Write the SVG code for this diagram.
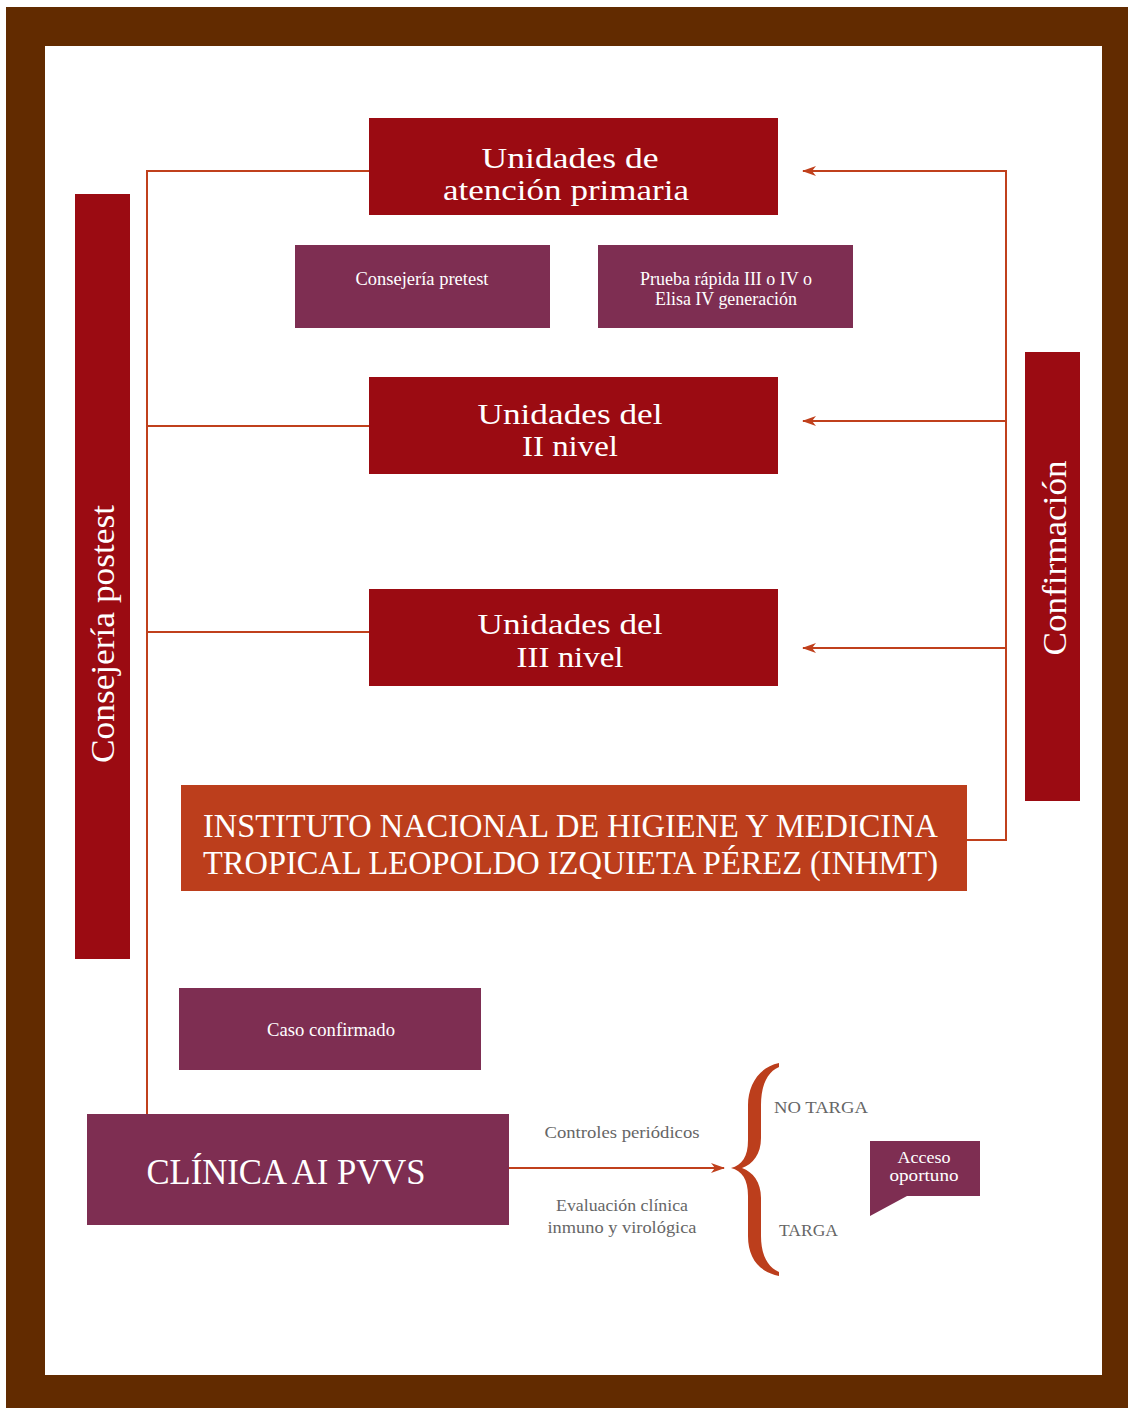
<svg xmlns="http://www.w3.org/2000/svg" width="1128" height="1408" viewBox="0 0 1128 1408">
<defs>
<style>
.red{fill:#9b0b12}
.pur{fill:#7e2e52}
.org{fill:#bc3e1c}
.wt{fill:#ffffff;font-family:"Liberation Serif","Times New Roman",serif}
.gt{fill:#666666;font-family:"Liberation Serif","Times New Roman",serif;font-size:17px}
.ln{fill:none;stroke:#c0401c;stroke-width:2}
</style>
<marker id="ah" viewBox="0 0 14 10" refX="13" refY="5" markerWidth="14" markerHeight="10" markerUnits="userSpaceOnUse" orient="auto">
<path d="M0,0 L14,5 L0,10 L4,5 Z" fill="#c0401c"/>
</marker>
</defs>
<rect x="6" y="7" width="1122" height="1401" fill="#622b00"/>
<rect x="45" y="46" width="1057" height="1329" fill="#ffffff"/>

<g id="connectors">
<polyline class="ln" points="369,171 147,171 147,1114"/>
<line class="ln" x1="147" y1="426" x2="369" y2="426"/>
<line class="ln" x1="147" y1="632" x2="369" y2="632"/>
<polyline class="ln" points="967,840 1006,840 1006,171 803,171" marker-end="url(#ah)"/>
<line class="ln" x1="1006" y1="421" x2="803" y2="421" marker-end="url(#ah)"/>
<line class="ln" x1="1006" y1="648" x2="803" y2="648" marker-end="url(#ah)"/>
<line class="ln" x1="509" y1="1168" x2="724" y2="1168" marker-end="url(#ah)"/>
<path d="M779,1063 C759,1067 748,1085 748,1105 L748,1140 C748,1157 742,1165 731,1168 C742,1171 748,1179 748,1196 L748,1236 C748,1258 759,1272 779,1276 L779,1272 C767,1267 761,1254 761,1236 L761,1198 C761,1182 753,1172 742,1168 C753,1164 761,1154 761,1138 L761,1105 C761,1086 767,1072 779,1067 Z" fill="#bc3e1c"/>
</g>

<g id="consejeria-postest">
<rect class="red" x="75" y="194" width="55" height="765"/>
<text class="wt" font-size="34" text-anchor="middle" transform="translate(114,634) rotate(-90)" textLength="258" lengthAdjust="spacingAndGlyphs">Consejería postest</text>
</g>

<g id="confirmacion">
<rect class="red" x="1025" y="352" width="55" height="449"/>
<text class="wt" font-size="34" text-anchor="middle" transform="translate(1066,558) rotate(-90)" textLength="195" lengthAdjust="spacingAndGlyphs">Confirmación</text>
</g>

<g id="atencion-primaria">
<rect class="red" x="369" y="118" width="409" height="97"/>
<text class="wt" font-size="30" text-anchor="middle" x="570" y="168" textLength="177" lengthAdjust="spacingAndGlyphs">Unidades de</text>
<text class="wt" font-size="30" text-anchor="middle" x="566" y="200" textLength="246" lengthAdjust="spacingAndGlyphs">atención primaria</text>
</g>

<g id="consejeria-pretest">
<rect class="pur" x="295" y="245" width="255" height="83"/>
<text class="wt" font-size="18" text-anchor="middle" x="422" y="285" textLength="133" lengthAdjust="spacingAndGlyphs">Consejería pretest</text>
</g>

<g id="prueba-rapida">
<rect class="pur" x="598" y="245" width="255" height="83"/>
<text class="wt" font-size="18" text-anchor="middle" x="726" y="285" textLength="172" lengthAdjust="spacingAndGlyphs">Prueba rápida III o IV o</text>
<text class="wt" font-size="18" text-anchor="middle" x="726" y="305" textLength="142" lengthAdjust="spacingAndGlyphs">Elisa IV generación</text>
</g>

<g id="segundo-nivel">
<rect class="red" x="369" y="377" width="409" height="97"/>
<text class="wt" font-size="30" text-anchor="middle" x="570" y="424" textLength="185" lengthAdjust="spacingAndGlyphs">Unidades del</text>
<text class="wt" font-size="30" text-anchor="middle" x="570" y="456" textLength="96" lengthAdjust="spacingAndGlyphs">II nivel</text>
</g>

<g id="tercer-nivel">
<rect class="red" x="369" y="589" width="409" height="97"/>
<text class="wt" font-size="30" text-anchor="middle" x="570" y="634" textLength="185" lengthAdjust="spacingAndGlyphs">Unidades del</text>
<text class="wt" font-size="30" text-anchor="middle" x="570" y="667" textLength="107" lengthAdjust="spacingAndGlyphs">III nivel</text>
</g>

<g id="inhmt">
<rect class="org" x="181" y="785" width="786" height="106"/>
<text class="wt" font-size="33" x="203" y="837" textLength="735" lengthAdjust="spacingAndGlyphs">INSTITUTO NACIONAL DE HIGIENE Y MEDICINA</text>
<text class="wt" font-size="33" x="203" y="874" textLength="735" lengthAdjust="spacingAndGlyphs">TROPICAL LEOPOLDO IZQUIETA PÉREZ (INHMT)</text>
</g>

<g id="caso-confirmado">
<rect class="pur" x="179" y="988" width="302" height="82"/>
<text class="wt" font-size="18" text-anchor="middle" x="331" y="1036" textLength="128" lengthAdjust="spacingAndGlyphs">Caso confirmado</text>
</g>

<g id="clinica">
<rect class="pur" x="87" y="1114" width="422" height="111"/>
<text class="wt" font-size="36" text-anchor="middle" x="286" y="1184" textLength="279" lengthAdjust="spacingAndGlyphs">CLÍNICA AI PVVS</text>
</g>

<g id="labels">
<text class="gt" text-anchor="middle" x="622" y="1138" textLength="155" lengthAdjust="spacingAndGlyphs">Controles periódicos</text>
<text class="gt" text-anchor="middle" x="622" y="1211" textLength="132" lengthAdjust="spacingAndGlyphs">Evaluación clínica</text>
<text class="gt" text-anchor="middle" x="622" y="1233" textLength="149" lengthAdjust="spacingAndGlyphs">inmuno y virológica</text>
<text class="gt" x="774" y="1113" textLength="94" lengthAdjust="spacingAndGlyphs">NO TARGA</text>
<text class="gt" x="779" y="1236" textLength="59" lengthAdjust="spacingAndGlyphs">TARGA</text>
</g>

<g id="acceso-oportuno">
<path class="pur" d="M870,1141 L980,1141 L980,1196 L907,1196 L870,1216 Z"/>
<text class="wt" font-size="17" text-anchor="middle" x="924" y="1163" textLength="53" lengthAdjust="spacingAndGlyphs">Acceso</text>
<text class="wt" font-size="17" text-anchor="middle" x="924" y="1181" textLength="69" lengthAdjust="spacingAndGlyphs">oportuno</text>
</g>
</svg>
